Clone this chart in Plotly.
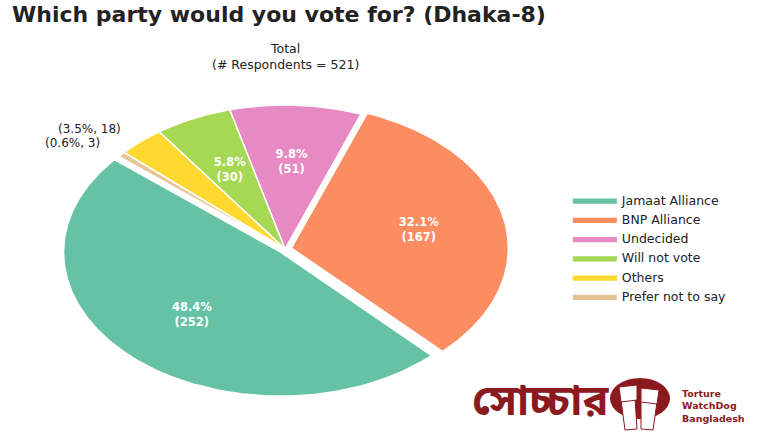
import numpy as np
import plotly.graph_objects as go

# ---- data ----
categories = ["Jamaat Alliance", "BNP Alliance", "Undecided", "Will not vote", "Others", "Prefer not to say"]
counts = [252, 167, 51, 30, 18, 3]
colors = ["#66c2a5", "#fc8d62", "#e78ac3", "#a6d854", "#ffd92f", "#e5c494"]
explode = [0.03, 0.03, 0, 0, 0, 0]
title_text = "Which party would you vote for? (Dhaka-8)"
subtitle_lines = ["Total", "(# Respondents = 521)"]
logo_bn = "সোচ্চার"
logo_lines = ["Torture", "WatchDog", "Bangladesh"]

# ---- geometry (pixel space) ----
W, H = 780, 438
CX, CY, RX, RY = 285, 249, 217, 144
START = 140
FONT = "DejaVu Sans"
DARKRED = "#8b1a1f"

total = sum(counts)
fracs = np.array(counts, dtype=float) / total
ends = START + 360 * np.cumsum(fracs)
starts = ends - 360 * fracs

fig = go.Figure()
lab_x, lab_y, lab_t = [], [], []
out_ann = []
for i, cat in enumerate(categories):
    a0, a1 = starts[i], ends[i]
    mid = np.radians((a0 + a1) / 2)
    ox = CX + explode[i] * RX * np.cos(mid)
    oy = CY - explode[i] * RY * np.sin(mid)
    n = max(int((a1 - a0) * 2), 6)
    th = np.radians(np.linspace(a0, a1, n))
    xs = np.concatenate([[ox], ox + RX * np.cos(th), [ox]])
    ys = np.concatenate([[oy], oy - RY * np.sin(th), [oy]])
    fig.add_trace(go.Scatter(
        x=xs, y=ys, fill="toself", fillcolor=colors[i], mode="lines",
        line=dict(color="white", width=1.5), name=cat, hoverinfo="skip",
    ))
    pct = 100 * fracs[i]
    if pct >= 5:
        lab_x.append(ox + 0.6 * RX * np.cos(mid))
        lab_y.append(oy - 0.6 * RY * np.sin(mid))
        lab_t.append(f"<b>{pct:.1f}%<br>({counts[i]})</b>")
    else:
        out_ann.append(dict(
            x=ox + 1.12 * RX * np.cos(mid), y=oy - 1.12 * RY * np.sin(mid),
            xref="x", yref="y", text=f"({pct:.1f}%, {counts[i]})", showarrow=False,
            xanchor="right", yanchor="middle",
            font=dict(family=FONT, size=12, color="#222"),
        ))

fig.add_trace(go.Scatter(
    x=lab_x, y=lab_y, mode="text", text=lab_t, showlegend=False, hoverinfo="skip",
    textfont=dict(family=FONT, size=11.5, color="white"),
))

annotations = list(out_ann)
annotations.append(dict(
    x=CX, y=56, xref="x", yref="y", text="<br>".join(subtitle_lines), showarrow=False,
    xanchor="center", yanchor="middle", font=dict(family=FONT, size=12.5, color="#222"),
))

# logo
annotations.append(dict(
    x=540, y=404, xref="x", yref="y", text=f"<b>{logo_bn}</b>", showarrow=False,
    xanchor="center", yanchor="middle",
    font=dict(family="Noto Sans Bengali, Noto Sans, sans-serif", size=43, color=DARKRED),
))
annotations.append(dict(
    x=680, y=406, xref="x", yref="y", text="<b>" + "<br>".join(logo_lines) + "</b>",
    showarrow=False, xanchor="left", yanchor="middle", align="left",
    font=dict(family=FONT, size=9.5, color=DARKRED),
))

shapes = [
    dict(type="circle", xref="x", yref="y", x0=610, x1=670, y0=378, y1=419,
         fillcolor=DARKRED, line=dict(width=0), layer="above"),
    dict(type="path", xref="x", yref="y",
         path="M 621 400 L 635 398 L 637 429 L 625 430 Z",
         fillcolor="white", line=dict(color=DARKRED, width=1), layer="above"),
    dict(type="path", xref="x", yref="y",
         path="M 641 400 L 657 402 L 653 430 L 641 429 Z",
         fillcolor="white", line=dict(color=DARKRED, width=1), layer="above"),
    dict(type="path", xref="x", yref="y",
         path="M 619 387 L 637 385 L 637 400 L 621 402 Z",
         fillcolor="white", line=dict(color=DARKRED, width=1), layer="above"),
    dict(type="path", xref="x", yref="y",
         path="M 641 388 L 659 390 L 657 404 L 641 402 Z",
         fillcolor="white", line=dict(color=DARKRED, width=1), layer="above"),
]

fig.update_layout(
    width=W, height=H, margin=dict(l=0, r=0, t=0, b=0),
    paper_bgcolor="white", plot_bgcolor="white",
    xaxis=dict(range=[0, W], visible=False, fixedrange=True),
    yaxis=dict(range=[H, 0], visible=False, fixedrange=True),
    title=dict(text=f"<b>{title_text}</b>", x=12 / W, xanchor="left",
               y=1 - 14 / H, yanchor="middle",
               font=dict(family=FONT, size=22, color="#222")),
    legend=dict(x=0.728, xanchor="left", y=1 - 248 / H, yanchor="middle",
                itemwidth=44,
                font=dict(family=FONT, size=12.5, color="#222"),
                bgcolor="rgba(0,0,0,0)", itemclick=False, itemdoubleclick=False),
    annotations=annotations, shapes=shapes, showlegend=True,
)

fig.write_html("out.html", post_script="document.body.style.margin='0';",
               config={"displayModeBar": False})
